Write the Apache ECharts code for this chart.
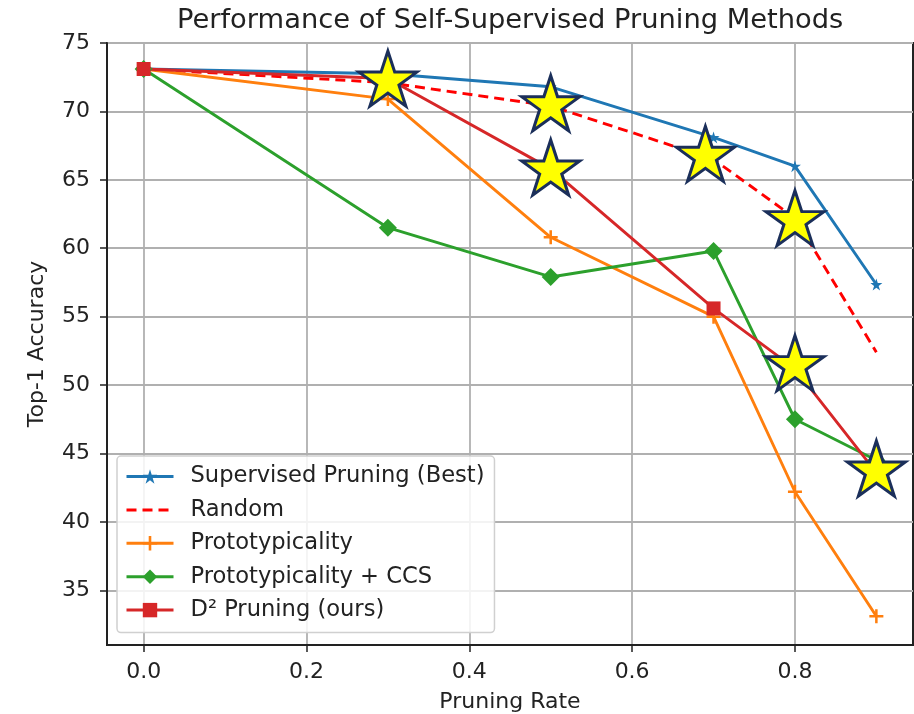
<!DOCTYPE html>
<html><head><meta charset="utf-8">
<script src="https://cdn.jsdelivr.net/npm/echarts@6/dist/echarts.min.js"></script>
<style>html,body{margin:0;padding:0;background:#fff}#c{width:914px;height:714px}</style>
</head><body><div id="c"></div>
<script>
const pruningRate = [0, 0.3, 0.5, 0.7, 0.8, 0.9];
const supervisedBest = [73.1, 72.75, 71.8, 68.1, 66.0, 57.35];
const randomPruning = [73.1, 72.1, 70.4, 66.5, 62.2, 52.4];
const prototypicality = [73.1, 70.9, 60.8, 55.0, 42.2, 33.1];
const protoCCS = [73.1, 61.5, 57.9, 59.8, 47.5, 44.5];
const d2Pruning = [73.1, 72.4, 65.8, 55.6, 51.2, 43.6];
const starX = [0.3, 0.5, 0.5, 0.69, 0.8, 0.8, 0.9];
const starY = [72.4, 70.6, 65.9, 66.9, 62.2, 51.6, 43.9];
const xTicks = [0, 0.2, 0.4, 0.6, 0.8];
const yTicks = [35, 40, 45, 50, 55, 60, 65, 70, 75];
const seriesNames = ['Supervised Pruning (Best)', 'Random', 'Prototypicality', 'Prototypicality + CCS', 'D\u00b2 Pruning (ours)'];

const STAR = 'path://M50 0 L61.23 34.55 L97.55 34.55 L68.17 55.9 L79.39 90.45 L50 69.1 L20.61 90.45 L31.83 55.9 L2.45 34.55 L38.77 34.55 Z';
const PLUS = 'path://M41 0 H59 V41 H100 V59 H59 V100 H41 V59 H0 V41 H41 Z';
const FONT = 'DejaVu Sans';

function pairs(xs, ys) { return xs.map((x, i) => [x, ys[i]]); }

function lineSeries(name, ys, color, symbol, size, dashed) {
  return {
    name: name, type: 'line', data: pairs(pruningRate, ys),
    symbol: symbol, symbolSize: size, showSymbol: symbol !== 'none',
    itemStyle: { color: color },
    lineStyle: { color: color, width: 2.9, type: dashed ? [10, 6] : 'solid' },
    emphasis: { disabled: true }, z: 3
  };
}

const legendData = seriesNames.map(n => n === 'Random'
  ? { name: n, itemStyle: { opacity: 0 } }
  : { name: n });

const chart = echarts.init(document.getElementById('c'), null, { renderer: 'canvas' });
chart.setOption({
  animation: false,
  textStyle: { fontFamily: FONT },
  title: {
    text: 'Performance of Self-Supervised Pruning Methods',
    left: 177, top: 7, padding: 0,
    textStyle: { fontFamily: FONT, fontSize: 27.3, fontWeight: 'normal', color: '#222' }
  },
  grid: { left: 107, right: 1, top: 43, bottom: 69, outerBoundsMode: 'none', containLabel: false, show: true, borderColor: '#222', borderWidth: 2, backgroundColor: 'transparent' },
  legend: {
    data: legendData, orient: 'vertical', left: 117, top: 456,
    itemWidth: 47, itemHeight: 18, itemGap: 10.4,
    padding: [9, 10, 11, 8],
    backgroundColor: 'rgba(255,255,255,0.85)', borderColor: '#d0d0d0', borderWidth: 1.5, borderRadius: 4,
    lineStyle: { width: 3 },
    textStyle: { fontFamily: FONT, fontSize: 22.6, color: '#222', padding: [0, 0, 0, 12], lineHeight: 22 },
    z: 10
  },
  xAxis: {
    type: 'value', min: -0.045, max: 0.945,
    name: 'Pruning Rate', nameLocation: 'middle', nameGap: 46,
    nameTextStyle: { fontFamily: FONT, fontSize: 22, color: '#222' },
    axisLine: { show: true, onZero: false, lineStyle: { color: '#222', width: 2 } },
    axisTick: { show: true, customValues: xTicks, length: 7, lineStyle: { color: '#222', width: 1.5 } },
    axisLabel: { customValues: xTicks, formatter: v => v.toFixed(1), margin: 16, fontFamily: FONT, fontSize: 22, color: '#222' },
    splitLine: { show: true, lineStyle: { color: '#b0b0b0', width: 1.8 } }
  },
  yAxis: {
    type: 'value', min: 31, max: 75,
    name: 'Top-1 Accuracy', nameLocation: 'middle', nameGap: 59,
    nameTextStyle: { fontFamily: FONT, fontSize: 22, color: '#222' },
    axisLine: { show: true, onZero: false, lineStyle: { color: '#222', width: 2 } },
    axisTick: { show: true, customValues: yTicks, length: 7, lineStyle: { color: '#222', width: 1.5 } },
    axisLabel: { customValues: yTicks, margin: 17, fontFamily: FONT, fontSize: 22, color: '#222' },
    splitLine: { show: true, lineStyle: { color: '#b0b0b0', width: 1.8 } }
  },
  series: [
    lineSeries(seriesNames[0], supervisedBest, '#1f77b4', STAR, 12, false),
    lineSeries(seriesNames[1], randomPruning, '#ff0000', 'none', 0, true),
    lineSeries(seriesNames[2], prototypicality, '#ff7f0e', PLUS, 14, false),
    lineSeries(seriesNames[3], protoCCS, '#2ca02c', 'diamond', 18, false),
    lineSeries(seriesNames[4], d2Pruning, '#d62728', 'rect', 14, false),
    {
      name: 'highlight', type: 'scatter', data: pairs(starX, starY),
      symbol: STAR, symbolSize: [58, 55],
      itemStyle: { color: '#ffff00', borderColor: '#1b2f5a', borderWidth: 3, opacity: 1 },
      emphasis: { disabled: true }, z: 6
    }
  ]
});
</script></body></html>
